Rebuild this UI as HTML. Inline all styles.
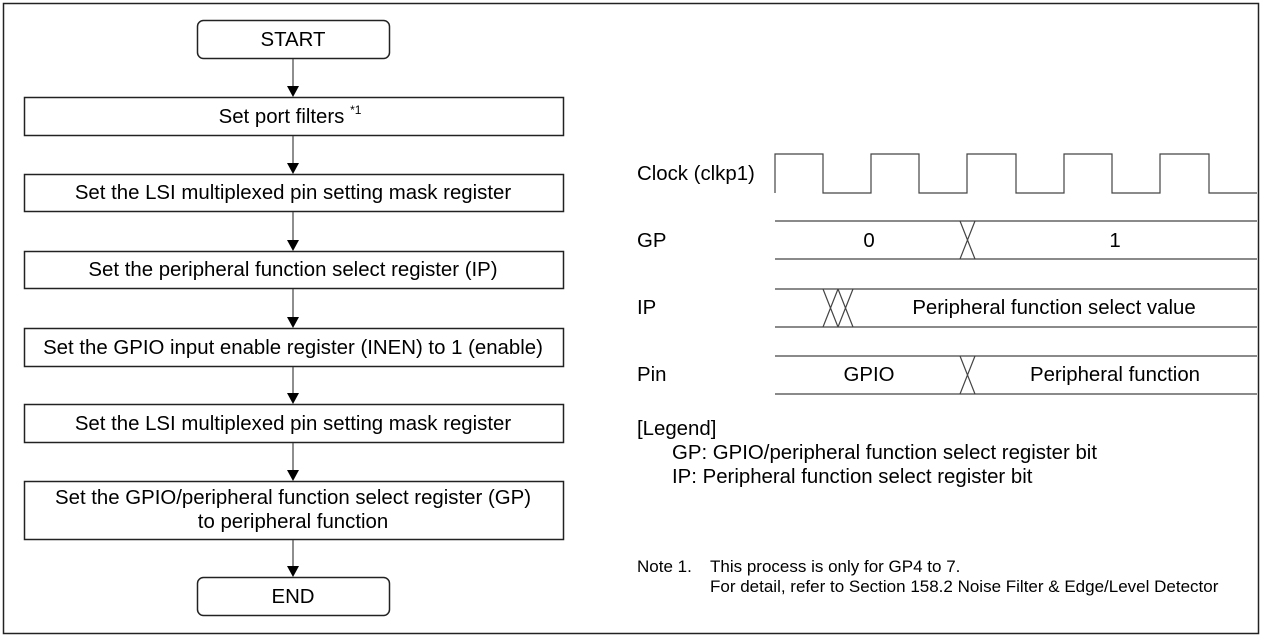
<!DOCTYPE html>
<html><head><style>
html,body{margin:0;padding:0;background:#fff;}
svg{display:block;}
text{font-family:"Liberation Sans",Arial,sans-serif;font-size:20.4px;fill:#000;}
text.n{font-size:17px;}
tspan.s{font-size:12px;}
</style></head><body>
<svg width="1262" height="638" viewBox="0 0 1262 638" xmlns="http://www.w3.org/2000/svg">
<rect x="3.5" y="3.5" width="1255" height="630" fill="none" stroke="#222" stroke-width="1.5"/>
<g fill="none" stroke="#222" stroke-width="1.5">
<rect x="197.5" y="20.5" width="192" height="38" rx="6"/>
<rect x="24.5" y="97.5" width="539" height="38"/>
<rect x="24.5" y="174.5" width="539" height="37"/>
<rect x="24.5" y="251.5" width="539" height="37"/>
<rect x="24.5" y="328.5" width="539" height="38"/>
<rect x="24.5" y="404.5" width="539" height="38"/>
<rect x="24.5" y="481.5" width="539" height="58"/>
<rect x="197.5" y="577.5" width="192" height="38" rx="6"/>
</g>
<g stroke="#444" stroke-width="1.2">
<line x1="293" y1="59" x2="293" y2="88"/>
<line x1="293" y1="136" x2="293" y2="165"/>
<line x1="293" y1="212" x2="293" y2="242"/>
<line x1="293" y1="289" x2="293" y2="319"/>
<line x1="293" y1="367" x2="293" y2="395"/>
<line x1="293" y1="443" x2="293" y2="472"/>
<line x1="293" y1="540" x2="293" y2="568"/>
</g>
<g fill="#000">
<polygon points="287,86 299,86 293,97"/>
<polygon points="287,163 299,163 293,174"/>
<polygon points="287,240 299,240 293,251"/>
<polygon points="287,317 299,317 293,328"/>
<polygon points="287,393 299,393 293,404"/>
<polygon points="287,470 299,470 293,481"/>
<polygon points="287,566 299,566 293,577"/>
</g>
<g text-anchor="middle">
<text x="293" y="46">START</text>
<text x="290" y="123">Set port filters <tspan class="s" dy="-9">*1</tspan></text>
<text x="293" y="199">Set the LSI multiplexed pin setting mask register</text>
<text x="293" y="276">Set the peripheral function select register (IP)</text>
<text x="293" y="354">Set the GPIO input enable register (INEN) to 1 (enable)</text>
<text x="293" y="430">Set the LSI multiplexed pin setting mask register</text>
<text x="293" y="504">Set the GPIO/peripheral function select register (GP)</text>
<text x="293" y="528">to peripheral function</text>
<text x="293" y="603">END</text>
</g>
<g fill="none" stroke="#444" stroke-width="1.2">
<path d="M775,193 V154 H823 V193 H871 V154 H919 V193 H967 V154 H1016 V193 H1064 V154 H1112 V193 H1160 V154 H1209 V193 H1257"/>
<line x1="775" y1="221" x2="1257" y2="221"/><line x1="775" y1="259" x2="1257" y2="259"/>
<path d="M960,221 L975,259 M975,221 L960,259"/>
<line x1="775" y1="289" x2="1257" y2="289"/><line x1="775" y1="327" x2="1257" y2="327"/>
<path d="M823,289 L838,327 M838,289 L823,327 M838,289 L853,327 M853,289 L838,327"/>
<line x1="775" y1="356" x2="1257" y2="356"/><line x1="775" y1="394" x2="1257" y2="394"/>
<path d="M960,356 L975,394 M975,356 L960,394"/>
</g>
<text x="637" y="180">Clock (clkp1)</text>
<text x="637" y="247">GP</text>
<text x="637" y="314">IP</text>
<text x="637" y="381">Pin</text>
<g text-anchor="middle">
<text x="869" y="247">0</text>
<text x="1115" y="247">1</text>
<text x="1054" y="314">Peripheral function select value</text>
<text x="869" y="381">GPIO</text>
<text x="1115" y="381">Peripheral function</text>
</g>
<text x="637" y="435">[Legend]</text>
<text x="672" y="459">GP: GPIO/peripheral function select register bit</text>
<text x="672" y="483">IP: Peripheral function select register bit</text>
<text class="n" x="637" y="572">Note 1.</text>
<text class="n" x="710" y="572">This process is only for GP4 to 7.</text>
<text class="n" x="710" y="592">For detail, refer to Section 158.2 Noise Filter &amp; Edge/Level Detector</text>
</svg>
</body></html>
